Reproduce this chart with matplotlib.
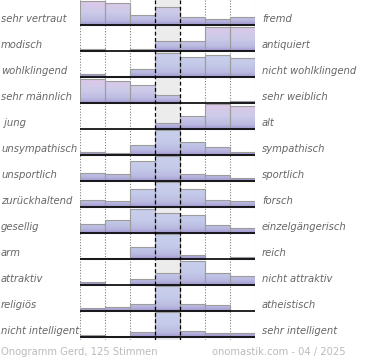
import matplotlib
matplotlib.use('Agg')
import matplotlib.pyplot as plt
import numpy as np
from matplotlib.colors import LinearSegmentedColormap
from matplotlib.patches import Rectangle

# ---------------- data ----------------
left_labels = ["sehr vertraut", "modisch", "wohlklingend", "sehr männlich", " jung",
               "unsympathisch", "unsportlich", "zurückhaltend", "gesellig", "arm",
               "attraktiv", "religiös", "nicht intelligent"]
right_labels = ["fremd", "antiquiert", "nicht wohlklingend", "sehr weiblich", "alt",
                "sympathisch", "sportlich", "forsch", "einzelgängerisch", "reich",
                "nicht attraktiv", "atheistisch", "sehr intelligent"]
# relative bar heights (0-100) for the 7 scale steps of each row
row_sehr_vertraut = [96, 87, 39, 71, 33, 25, 33]
row_modisch = [7, 0, 7, 39, 41, 97, 97]
row_wohlklingend = [13, 6, 32, 96, 80, 88, 76]
row_maennlich = [96, 88, 72, 32, 0, 0, 7]
row_jung = [0, 0, 0, 26, 52, 100, 91]
row_unsympathisch = [13, 9, 40, 100, 53, 31, 13]
row_unsportlich = [32, 27, 80, 100, 29, 25, 13]
row_zurueckhaltend = [28, 24, 72, 100, 72, 28, 24]
row_gesellig = [36, 51, 96, 80, 72, 31, 20]
row_arm = [5, 5, 47, 99, 17, 0, 10]
row_attraktiv = [13, 0, 24, 50, 97, 47, 37]
row_religioes = [11, 16, 29, 100, 29, 24, 0]
row_intelligent = [10, 6, 21, 100, 23, 17, 15]
values = [row_sehr_vertraut, row_modisch, row_wohlklingend, row_maennlich, row_jung,
          row_unsympathisch, row_unsportlich, row_zurueckhaltend, row_gesellig, row_arm,
          row_attraktiv, row_religioes, row_intelligent]
pink_rows = [0, 1, 3, 4]
footer_left = "Onogramm Gerd, 125 Stimmen"
footer_right = "onomastik.com - 04 / 2025"

# ---------------- layout ----------------
W, H = 370, 360
fig = plt.figure(figsize=(W / 100, H / 100), dpi=100)
fig.patch.set_facecolor('white')
ax = fig.add_axes([80 / W, 1 - 340 / H, 175 / W, 340 / H])
ax.axis('off')

row_h = 26
first_base = 25
full = 25

cmap_pink = LinearSegmentedColormap.from_list(
    'pk', [(0, '#dfc8e8'), (0.5, '#cbcbe9'), (0.82, '#bcbbe2'), (0.93, '#aca6d6'), (1, '#968dc6')])
cmap_blue = LinearSegmentedColormap.from_list(
    'bl', [(0, '#c9d0ec'), (0.5, '#c4cae9'), (0.82, '#bab9e1'), (0.93, '#aca6d6'), (1, '#968dc6')])
grad = np.linspace(0, 1, 64).reshape(-1, 1)

ax.axvspan(3, 4, color='#ececec', zorder=0, lw=0)
for x in [0, 1, 2, 5, 6, 7]:
    ax.plot([x, x], [0, 340], color='#808080', lw=0.8, ls=(0, (1, 1.5)), zorder=1)

for i, row in enumerate(values):
    b = first_base + i * row_h
    cmap = cmap_pink if i in pink_rows else cmap_blue
    for j, v in enumerate(row):
        h = v / 100 * full
        if h <= 0:
            continue
        rect = Rectangle((j, b - h), 1, h, facecolor='none', edgecolor='#9c9c9c',
                         lw=0.8, zorder=4)
        ax.add_patch(rect)
        im = ax.imshow(cmap(grad), extent=(j, j + 1, b, b - full), origin='upper',
                       aspect='auto', zorder=3, interpolation='bilinear')
        im.set_clip_path(rect)
    ax.plot([0, 7], [b, b], color='black', lw=1.2, zorder=6, solid_capstyle='butt')
    fig.text(1 / W, 1 - (b - 6) / H, left_labels[i], ha='left', va='center',
             fontsize=7.2, style='italic', color='#666666')
    fig.text(262 / W, 1 - (b - 6) / H, right_labels[i], ha='left', va='center',
             fontsize=7.2, style='italic', color='#666666')

for x in [3, 4]:
    ax.plot([x, x], [0, 340], color='black', lw=0.9, ls=(0, (3, 2)), zorder=7)

ax.set_xlim(0, 7)
ax.set_ylim(340, 0)

fig.text(1 / W, 1 - 352 / H, footer_left, ha='left', va='center', fontsize=7.2, color='#bbbbbb')
fig.text(346 / W, 1 - 352 / H, footer_right, ha='right', va='center', fontsize=7.2, color='#bbbbbb')

fig.savefig('out.png', dpi=100)
